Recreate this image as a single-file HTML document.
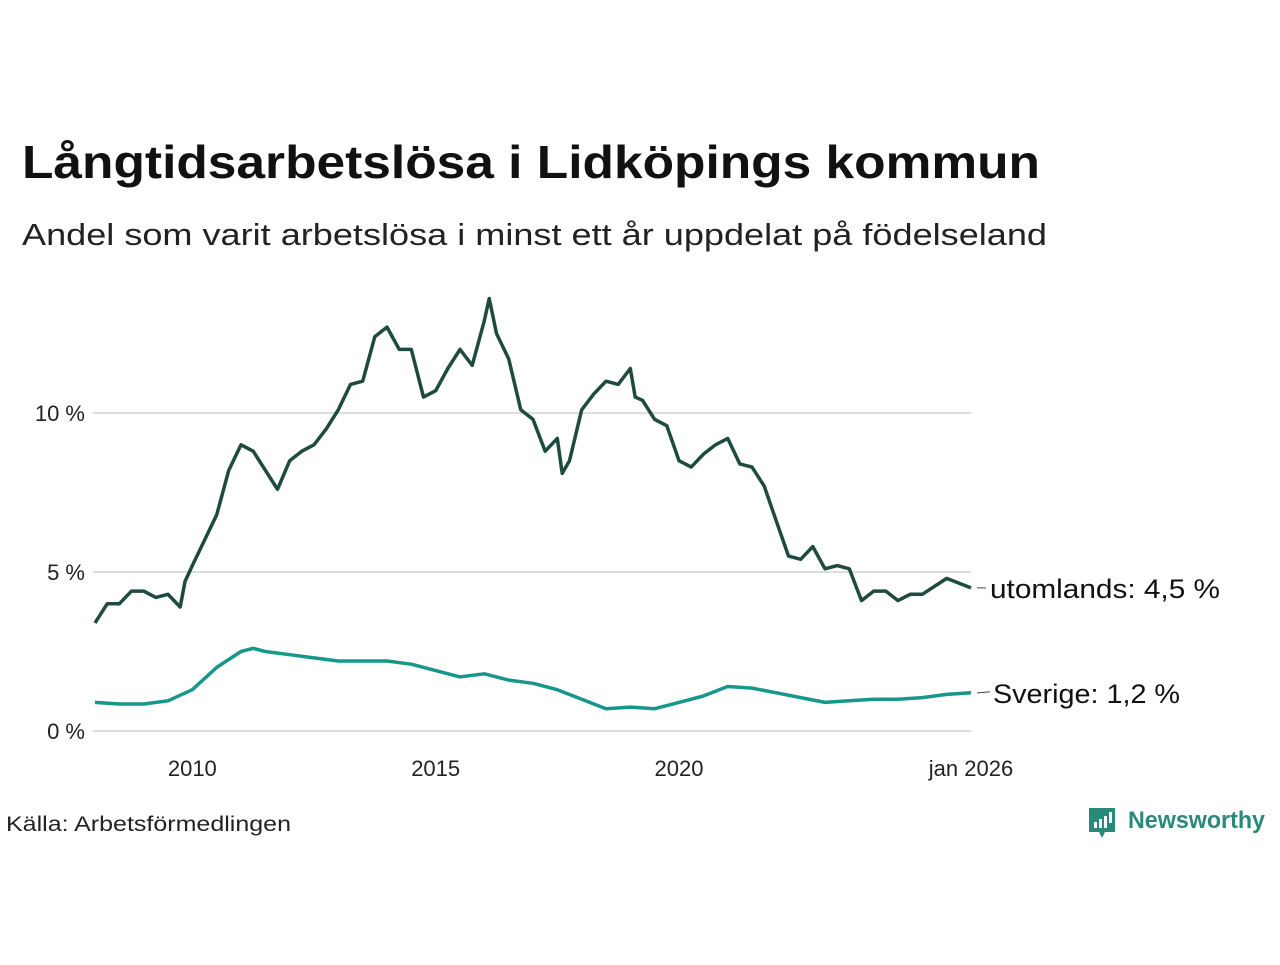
<!DOCTYPE html>
<html><head><meta charset="utf-8"><style>
body{margin:0;background:#fff;font-family:"Liberation Sans",sans-serif;}
svg text{font-family:"Liberation Sans",sans-serif;}
</style></head><body>
<svg width="1280" height="960">
<text x="22" y="178" font-size="46" font-weight="bold" fill="#111" textLength="1018" lengthAdjust="spacingAndGlyphs">Långtidsarbetslösa i Lidköpings kommun</text>
<text x="22" y="245" font-size="31" fill="#222" textLength="1025" lengthAdjust="spacingAndGlyphs">Andel som varit arbetslösa i minst ett år uppdelat på födelseland</text>
<g id="grid"></g><g id="lines"></g>
<text x="6" y="831" font-size="21" fill="#222" textLength="285" lengthAdjust="spacingAndGlyphs">Källa: Arbetsförmedlingen</text>
<g>
<path d="M1089 808 h26 v24 h-10 l-3 6 l-3 -6 h-10 z" fill="#2a8a7a"/>
<rect x="1094" y="822" width="3" height="6" fill="#fff"/><rect x="1099" y="819" width="3" height="9" fill="#fff"/><rect x="1104" y="816" width="3" height="12" fill="#fff"/><rect x="1109" y="812" width="3" height="11" fill="#fff"/>
<text x="1128" y="828" font-size="24" font-weight="bold" fill="#2a8a7a" textLength="137" lengthAdjust="spacingAndGlyphs">Newsworthy</text></g>
</svg>
<script>
const uDates=[2008,2008.25,2008.5,2008.75,2009,2009.25,2009.5,2009.75,2009.85,2010,2010.25,2010.5,2010.75,2011,2011.25,2011.5,2011.75,2012,2012.25,2012.5,2012.75,2013,2013.25,2013.5,2013.75,2014,2014.25,2014.5,2014.75,2015,2015.25,2015.5,2015.75,2016,2016.1,2016.25,2016.5,2016.75,2017,2017.25,2017.5,2017.6,2017.75,2018,2018.25,2018.5,2018.75,2019,2019.1,2019.25,2019.5,2019.75,2020,2020.25,2020.5,2020.75,2021,2021.25,2021.5,2021.75,2022,2022.25,2022.5,2022.75,2023,2023.25,2023.5,2023.75,2024,2024.25,2024.5,2024.75,2025,2025.5,2026];
const uVals=[3.4,4.0,4.0,4.4,4.4,4.2,4.3,3.9,4.7,5.2,6.0,6.8,8.2,9.0,8.8,8.2,7.6,8.5,8.8,9.0,9.5,10.1,10.9,11.0,12.4,12.7,12.0,12.0,10.5,10.7,11.4,12.0,11.5,12.9,13.6,12.5,11.7,10.1,9.8,8.8,9.2,8.1,8.5,10.1,10.6,11.0,10.9,11.4,10.5,10.4,9.8,9.6,8.5,8.3,8.7,9.0,9.2,8.4,8.3,7.7,6.6,5.5,5.4,5.8,5.1,5.2,5.1,4.1,4.4,4.4,4.1,4.3,4.3,4.8,4.5];
const sDates=[2008,2008.5,2009,2009.5,2010,2010.5,2011,2011.25,2011.5,2012,2012.5,2013,2013.5,2014,2014.5,2015,2015.5,2016,2016.5,2017,2017.5,2018,2018.5,2019,2019.5,2020,2020.5,2021,2021.5,2022,2022.5,2023,2023.5,2024,2024.5,2025,2025.5,2026];
const sVals=[0.9,0.85,0.85,0.95,1.3,2.0,2.5,2.6,2.5,2.4,2.3,2.2,2.2,2.2,2.1,1.9,1.7,1.8,1.6,1.5,1.3,1.0,0.7,0.75,0.7,0.9,1.1,1.4,1.35,1.2,1.05,0.9,0.95,1.0,1.0,1.05,1.15,1.2];
const yTicks=[0,5,10];const yLabels=["0 %","5 %","10 %"];
const xTicks=[2010,2015,2020,2026];const xLabels=["2010","2015","2020","jan 2026"];
const ns="http://www.w3.org/2000/svg";
const X=d=>95+(d-2008)*(971-95)/18;
const Y=v=>731-v*31.8;
const grid=document.getElementById('grid'),lines=document.getElementById('lines');
function mk(tag,attrs,parent,txt){const e=document.createElementNS(ns,tag);for(const k in attrs)e.setAttribute(k,attrs[k]);if(txt)e.textContent=txt;parent.appendChild(e);return e;}
yTicks.forEach((t,i)=>{
 const l=mk('line',{x1:93,x2:971,y1:Y(t),y2:Y(t),stroke:'#ddd','stroke-width':2},grid);
 
 
 const tx=mk('text',{x:85,y:Y(t)+8,'font-size':22,'text-anchor':'end',fill:'#222'},grid,yLabels[i]);
 
 
});
xTicks.forEach((t,i)=>{
 const tx=mk('text',{x:X(t),y:776,'font-size':22,'text-anchor':'middle',fill:'#222'},grid,xLabels[i]);
 
 
});
function path(ds,vs,col,name){
 const d=ds.map((x,i)=>(i?'L':'M')+X(x).toFixed(1)+' '+Y(vs[i]).toFixed(1)).join(' ');
 const p=mk('path',{d:d,fill:'none',stroke:col,'stroke-width':3.5,'stroke-linejoin':'round'},lines);
 
 
}
path(uDates,uVals,'#1f4a40','line-utomlands');
path(sDates,sVals,'#17968a','line-sverige');
const uy=Y(uVals[uVals.length-1]),sy=Y(sVals[sVals.length-1]);
mk('line',{x1:977,x2:986,y1:uy,y2:uy,stroke:'#444','stroke-width':1},lines);
const l1=mk('text',{x:990,y:uy+10,'font-size':27,fill:'#111',textLength:230,lengthAdjust:'spacingAndGlyphs'},lines,'utomlands: '+uVals[uVals.length-1].toFixed(1).replace('.',',')+' %');


mk('line',{x1:977,x2:990,y1:sy,y2:sy-1,stroke:'#444','stroke-width':1},lines);
const l2=mk('text',{x:993,y:sy+10,'font-size':27,fill:'#111',textLength:187,lengthAdjust:'spacingAndGlyphs'},lines,'Sverige: '+sVals[sVals.length-1].toFixed(1).replace('.',',')+' %');


</script>
</body></html>
